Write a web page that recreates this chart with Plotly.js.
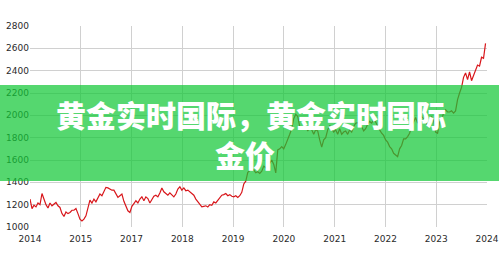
<!DOCTYPE html>
<html>
<head>
<meta charset="utf-8">
<script src="https://cdn.plot.ly/plotly-3.0.1.min.js"></script>
<style>
  html, body { margin: 0; padding: 0; background: #fff; }
  #chart { width: 499px; height: 266px; }
</style>
</head>
<body>
<div id="chart"></div>
<script>
// Year labels along the time axis (evenly spaced gridlines)
const tickLabels = ['2014', '2015', '2017', '2018', '2019', '2020', '2021', '2022', '2023', '2024'];

// Gold price (USD/oz), sampled at regular intervals across the axis
const goldPrice = [
  1250, 1165, 1195, 1180, 1215, 1200, 1300, 1245, 1200, 1170,
  1215, 1190, 1210, 1220, 1190, 1175, 1120, 1095, 1135, 1120,
  1130, 1150, 1150, 1165, 1120, 1070, 1055, 1070, 1100, 1170,
  1240, 1215, 1250, 1225, 1260, 1295, 1280, 1320, 1355, 1350,
  1340, 1330, 1330, 1290, 1265, 1280, 1295, 1230, 1185, 1145,
  1130, 1185, 1210, 1235, 1215, 1250, 1270, 1235, 1270, 1255,
  1215, 1250, 1275, 1285, 1270, 1305, 1350, 1315, 1295, 1285,
  1305, 1285, 1270, 1295, 1340, 1360, 1330, 1350, 1325, 1330,
  1315, 1295, 1285, 1250, 1225, 1195, 1180, 1185, 1190, 1180,
  1200, 1195, 1225, 1215, 1240, 1260, 1285, 1290, 1300, 1280,
  1290, 1275, 1270, 1280, 1265, 1280, 1310, 1385, 1410, 1490,
  1505, 1520, 1510, 1485, 1495, 1480, 1500, 1545, 1530, 1565,
  1570, 1600, 1560, 1485, 1690, 1700, 1720, 1700, 1740, 1780,
  1830, 1880, 1970, 2010, 1990, 1900, 1895, 1880, 1900, 1860,
  1890, 1870, 1830, 1870, 1860, 1780, 1715, 1780, 1800, 1870,
  1910, 1880, 1850, 1870, 1830, 1880, 1830, 1850, 1860, 1830,
  1870, 1850, 1900, 1930, 1935, 1925, 1900, 1860, 1880, 1920,
  1945, 1930, 1960, 1940, 1900, 1870, 1840, 1820, 1780, 1760,
  1720, 1700, 1660, 1645, 1630, 1700, 1730, 1790, 1790, 1810,
  1840, 1900, 1950, 1980, 1930, 1960, 1990, 1970, 1950, 1900,
  1960, 1990, 1950, 1850, 1840, 1940, 1960, 2020, 2050, 2030,
  2030, 2040, 2020, 2040, 2140, 2200, 2250, 2340, 2380, 2320,
  2390, 2310, 2360, 2410, 2450, 2440, 2520, 2510, 2645
];

// Regular sample positions along the axis (one per sample, gridline units)
const sampleStep = 2 / 50.83;
const samplePos = goldPrice.map((_, i) => i * sampleStep);

const trace = {
  x: samplePos,
  y: goldPrice,
  type: 'scatter',
  mode: 'lines',
  line: { color: '#d8161b', width: 1.2 },
  hoverinfo: 'skip'
};

const tickFont = { family: 'DejaVu Sans, sans-serif', size: 9, color: '#2a2a2a' };
const bannerFont = { family: 'Noto Sans CJK SC, sans-serif', size: 30, color: '#ffffff', weight: 900 };

const layout = {
  width: 499,
  height: 266,
  margin: { l: 30, r: 12, t: 26, b: 39, pad: 0 },
  paper_bgcolor: '#ffffff',
  plot_bgcolor: '#ffffff',
  showlegend: false,
  xaxis: {
    range: [0, 9],
    tickmode: 'array',
    tickvals: tickLabels.map((_, i) => i),
    ticktext: tickLabels,
    showgrid: true,
    gridcolor: '#d0d0d0',
    gridwidth: 1,
    zeroline: false,
    showline: false,
    ticks: '',
    ticklabelstandoff: 5,
    tickfont: tickFont,
    fixedrange: true
  },
  yaxis: {
    range: [1000, 2800],
    tickvals: [1000, 1200, 1400, 1600, 1800, 2000, 2200, 2400, 2600, 2800],
    showgrid: true,
    gridcolor: '#d0d0d0',
    gridwidth: 1,
    zeroline: false,
    showline: false,
    ticks: '',
    tickfont: tickFont,
    fixedrange: true
  },
  shapes: [{
    type: 'rect',
    xref: 'paper', yref: 'paper',
    x0: -0.08, x1: 1.05,
    y0: 0.229, y1: 0.7065,
    fillcolor: 'rgb(20,200,55)',
    opacity: 0.72,
    line: { width: 0 },
    layer: 'above'
  }],
  annotations: [
    {
      text: '黄金实时国际，黄金实时国际',
      xref: 'paper', yref: 'paper',
      x: (251 - 30) / 457, y: (227 - 114) / 201,
      xanchor: 'center', yanchor: 'middle',
      borderpad: 0,
      showarrow: false,
      font: bannerFont
    },
    {
      text: '金价',
      xref: 'paper', yref: 'paper',
      x: (245 - 30) / 457, y: (227 - 154) / 201,
      xanchor: 'center', yanchor: 'middle',
      borderpad: 0,
      showarrow: false,
      font: bannerFont
    }
  ]
};

Plotly.newPlot('chart', [trace], layout, { displayModeBar: false, staticPlot: true });
</script>
</body>
</html>
